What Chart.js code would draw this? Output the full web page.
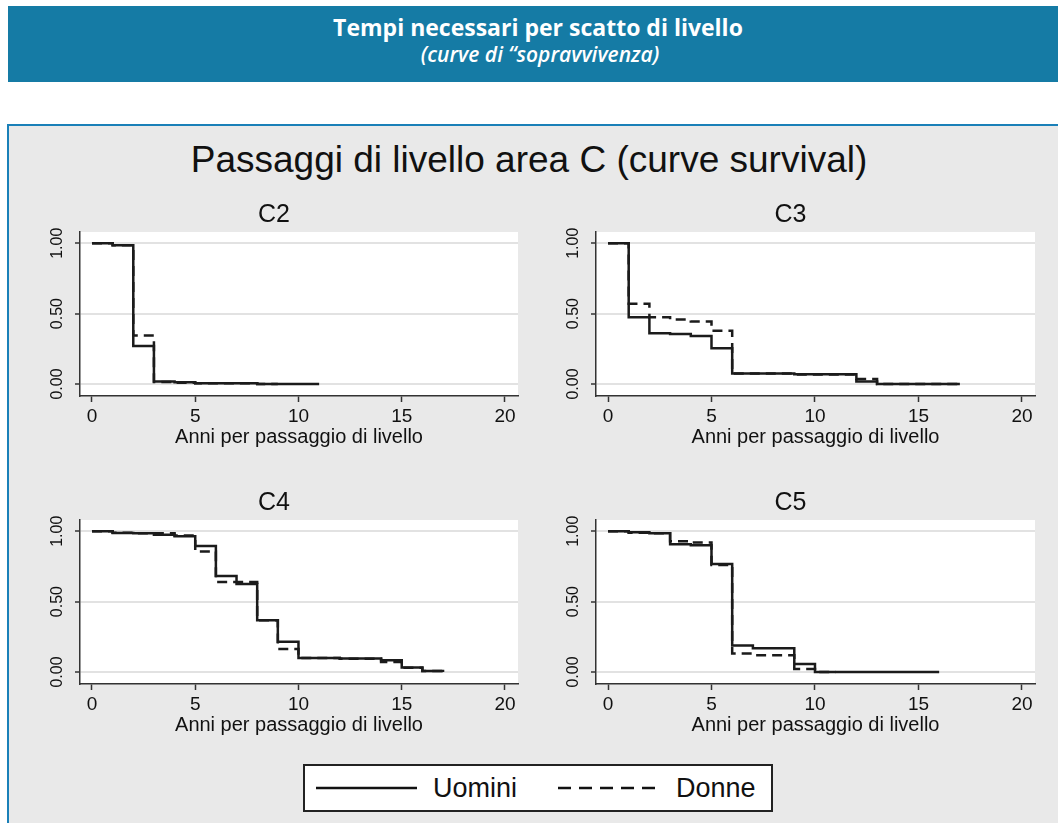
<!DOCTYPE html>
<html>
<head>
<meta charset="utf-8">
<script src="https://cdn.jsdelivr.net/npm/chart.js@4.4.1/dist/chart.umd.min.js"></script>
<style>
  body { margin: 0; width: 1058px; height: 823px; position: relative; background: #fff; overflow: hidden;
         font-family: Arial, "Liberation Sans", Helvetica, sans-serif; }
  #band { position: absolute; left: 8px; top: 6px; width: 1050px; height: 76px; background: #157ba5;
          color: #fff; text-align: center; font-family: "Open Sans", Lato, sans-serif;
          line-height: 27px; padding-top: 8px; box-sizing: border-box; }
  #band .l1 { padding-left: 10px; font-weight: bold; font-size: 23px; }
  #band .l2 { font-style: italic; font-weight: 600; font-size: 21px; padding-left: 14px; }
  #frame { position: absolute; left: 7px; top: 124px; width: 1060px; height: 710px; background: #e9e9e9;
           border-left: 2px solid #1a80b8; border-top: 2px solid #1a80b8; }
  #title { position: absolute; left: 0; top: 140px; width: 1058px; text-align: center; font-size: 37px;
           line-height: 40px; color: #111; }
  canvas { position: absolute; }
  #legend { position: absolute; left: 303px; top: 764px; width: 470px; height: 48px; box-sizing: border-box;
            background: #fff; border: 2px solid #222; }
  .lg { position: absolute; font-size: 27px; line-height: 30px; top: 7px; color: #111; }
  #legend svg { position: absolute; left: 0; top: 0; }
</style>
</head>
<body>
<div id="band"><div class="l1">Tempi necessari per scatto di livello</div><div class="l2">(curve di “sopravvivenza)</div></div>
<div id="frame"></div>
<div id="title">Passaggi di livello area C (curve survival)</div>
<canvas id="c2" width="500" height="260" style="left:30px; top:190px"></canvas>
<canvas id="c3" width="500" height="260" style="left:546px; top:190px"></canvas>
<canvas id="c4" width="500" height="260" style="left:30px; top:478px"></canvas>
<canvas id="c5" width="500" height="260" style="left:546px; top:478px"></canvas>
<div id="legend">
  <svg width="466" height="44">
    <line x1="11" y1="22" x2="112" y2="22" stroke="#111" stroke-width="2.5"/>
    <line x1="253" y1="22" x2="355" y2="22" stroke="#111" stroke-width="2.5" stroke-dasharray="13 8"/>
  </svg>
  <span class="lg" style="left:128px">Uomini</span>
  <span class="lg" style="left:371px">Donne</span>
</div>
<script>
// tick values
const xTicks = [0, 5, 10, 15, 20];
const yTicks = [0, 0.5, 1];
const xAxisTitle = 'Anni per passaggio di livello';

// C2
const c2YearsU = [0, 1, 2, 3, 4, 5, 8, 11];
const c2Uomini = [1.00, 0.985, 0.27, 0.018, 0.012, 0.005, 0.0, 0.0];
const c2YearsD = [0, 1, 2, 3, 4, 5, 8, 9];
const c2Donne = [1.00, 0.985, 0.345, 0.015, 0.01, 0.005, 0.0, 0.0];

// C3
const c3YearsU = [0, 1, 2, 3, 4, 5, 6, 9, 12, 13, 17];
const c3Uomini = [1.00, 0.475, 0.36, 0.355, 0.342, 0.255, 0.075, 0.07, 0.018, 0.0, 0.0];
const c3YearsD = [0, 1, 2, 3, 4, 5, 6, 9, 12, 13, 17];
const c3Donne = [1.00, 0.57, 0.475, 0.458, 0.444, 0.378, 0.075, 0.068, 0.035, 0.0, 0.0];

// C4
const c4YearsU = [0, 1, 2, 3, 4, 5, 6, 7, 8, 9, 10, 12, 14, 15, 16, 17];
const c4Uomini = [1.00, 0.988, 0.985, 0.976, 0.964, 0.895, 0.682, 0.625, 0.368, 0.216, 0.10, 0.097, 0.083, 0.033, 0.007, 0.0];
const c4YearsD = [0, 1, 2, 3, 4, 5, 6, 8, 9, 10, 12, 14, 15, 16, 17];
const c4Donne = [1.00, 0.99, 0.985, 0.985, 0.97, 0.857, 0.639, 0.368, 0.164, 0.10, 0.095, 0.072, 0.03, 0.007, 0.0];

// C5
const c5YearsU = [0, 1, 2, 3, 4, 5, 6, 7, 9, 10, 16];
const c5Uomini = [1.00, 0.993, 0.985, 0.907, 0.90, 0.767, 0.188, 0.169, 0.057, 0.0, 0.0];
const c5YearsD = [0, 1, 2, 3, 4, 5, 6, 7, 9, 10, 11];
const c5Donne = [1.00, 0.99, 0.985, 0.929, 0.92, 0.76, 0.131, 0.12, 0.021, 0.0, 0.0];

Chart.defaults.font.family = 'Arial, "Liberation Sans", Helvetica, sans-serif';
Chart.defaults.color = '#111';

const plotBg = {
  id: 'plotBg',
  beforeDraw(chart) {
    const a = chart.chartArea;
    chart.ctx.save();
    chart.ctx.fillStyle = '#fff';
    chart.ctx.fillRect(a.left, a.top, a.right - a.left, a.bottom - a.top);
    chart.ctx.restore();
  }
};

// rotated y labels like stata
const yLabels = {
  id: 'yLabels',
  afterDraw(chart) {
    const ctx = chart.ctx;
    const y = chart.scales.y;
    ctx.save();
    ctx.font = '16px ' + Chart.defaults.font.family;
    ctx.fillStyle = '#111';
    ctx.textAlign = 'center';
    ctx.textBaseline = 'middle';
    yTicks.forEach(v => {
      ctx.save();
      ctx.translate(chart.chartArea.left - 22, y.getPixelForValue(v));
      ctx.rotate(-Math.PI / 2);
      ctx.fillText(v.toFixed(2), 0, 0);
      ctx.restore();
    });
    ctx.restore();
  }
};

function pts(xs, ys) {
  return xs.map((x, i) => ({x: x, y: ys[i]}));
}

function makePanel(id, title, yearsU, uomini, yearsD, donne, padRight) {
  new Chart(document.getElementById(id), {
    type: 'line',
    data: {
      datasets: [{
        label: 'Uomini',
        data: pts(yearsU, uomini),
        borderColor: '#1b1b1b',
        borderWidth: 2.5,
        pointRadius: 0,
        stepped: 'before'
      }, {
        label: 'Donne',
        data: pts(yearsD, donne),
        borderColor: '#1b1b1b',
        borderWidth: 2.5,
        borderDash: [10, 6],
        pointRadius: 0,
        stepped: 'before'
      }]
    },
    options: {
      responsive: false,
      animation: false,
      layout: {padding: {left: 0, right: padRight, top: 0, bottom: 0}},
      scales: {
        x: {
          type: 'linear',
          min: -0.58,
          max: 20.63,
          afterBuildTicks: s => { s.ticks = xTicks.map(v => ({value: v})); },
          afterFit: s => { s.height = 54; },
          border: {color: '#333', width: 1.5},
          grid: {drawOnChartArea: false, tickLength: 6, tickColor: '#333', tickWidth: 1.5},
          ticks: {font: {size: 19}, padding: 3, maxRotation: 0, color: '#111'},
          title: {display: true, text: xAxisTitle, font: {size: 20}, padding: {top: 0, bottom: 1}, color: '#111'}
        },
        y: {
          min: -0.085,
          max: 1.08,
          afterBuildTicks: s => { s.ticks = yTicks.map(v => ({value: v})); },
          afterFit: s => { s.width = 50; },
          border: {color: '#333', width: 1.5},
          grid: {color: '#e2e2e2', lineWidth: 2, tickLength: 5, tickColor: '#333', tickWidth: 1.5},
          ticks: {display: false}
        }
      },
      plugins: {
        legend: {display: false},
        tooltip: {enabled: false},
        title: {display: true, text: title, font: {size: 25, weight: 'normal'}, color: '#111', padding: {top: 10, bottom: 2}}
      }
    },
    plugins: [plotBg, yLabels]
  });
}

makePanel('c2', 'C2', c2YearsU, c2Uomini, c2YearsD, c2Donne, 12);
makePanel('c3', 'C3', c3YearsU, c3Uomini, c3YearsD, c3Donne, 11);
makePanel('c4', 'C4', c4YearsU, c4Uomini, c4YearsD, c4Donne, 12);
makePanel('c5', 'C5', c5YearsU, c5Uomini, c5YearsD, c5Donne, 11);
</script>
</body>
</html>
